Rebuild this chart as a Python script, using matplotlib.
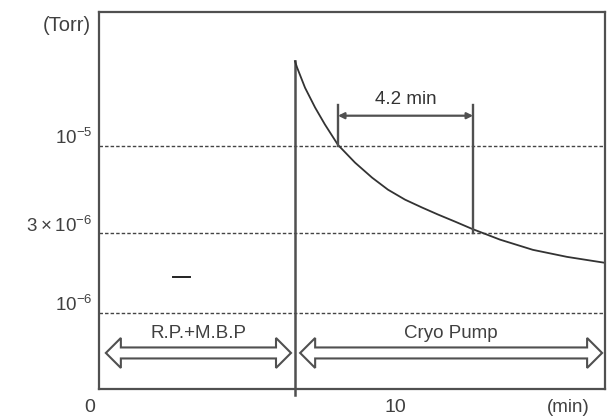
import matplotlib.pyplot as plt
from matplotlib import transforms
from matplotlib.patches import Polygon

# pressure decay after switching to the cryo pump
t_min = [6.72, 6.79, 7.05, 7.38, 7.70, 8.13, 8.69, 9.25, 9.77, 10.33, 10.89, 11.41, 11.97,
         12.52, 13.44, 14.52, 15.64, 16.885]
p_torr = [3.2e-5, 2.93e-5, 2.22e-5, 1.69e-5, 1.34e-5, 1.01e-5, 7.91e-6, 6.43e-6, 5.45e-6,
          4.75e-6, 4.26e-6, 3.87e-6, 3.51e-6, 3.18e-6, 2.74e-6, 2.38e-6, 2.16e-6, 1.99e-6]

ref_levels = [1e-5, 3e-6, 1e-6]
ref_labels = ['$10^{-5}$', '$3\\times10^{-6}$', '$10^{-6}$']
x_ticks = [0, 10]
x_tick_labels = ['0', '10']

switch_t = 6.72
t_reach_1e5 = 8.13
t_reach_3e6 = 12.56
dim_label = '4.2 min'
phase_names = ['R.P.+M.B.P', 'Cryo Pump']
phase_start = [0.52, 6.89]
phase_end = [6.59, 16.79]

col = '#505050'
txt = '#404040'
plt.rcParams['font.family'] = ['Liberation Sans', 'DejaVu Sans']
plt.rcParams['mathtext.fontset'] = 'custom'
plt.rcParams['mathtext.rm'] = 'Liberation Sans'

fig = plt.figure(figsize=(6.08, 4.16), dpi=100)
ax = fig.add_axes([99 / 608, 27 / 416, 506 / 608, 377 / 416])
ax.set_yscale('log')
ax.set_xlim(0.295, 16.885)
ax.set_ylim(3.5e-7, 6.3e-5)
for s in ax.spines.values():
    s.set_color(col)
    s.set_linewidth(1.6)
ax.set_xticks([])
ax.set_yticks([])
ax.minorticks_off()

for lv in ref_levels:
    ax.axhline(lv, color='#444444', lw=1, ls=(0, (2.5, 1.5)))

# labels sit just above the dashed lines
ylab_tr = transforms.offset_copy(ax.get_yaxis_transform(), fig=fig, x=-5, y=1, units='points')
for lv, lab in zip(ref_levels, ref_labels):
    ax.text(0, lv, lab, transform=ylab_tr, ha='right', va='baseline', fontsize=13.5, color=txt)
ax.text(-0.063, 0.965, '(Torr)', transform=ax.transAxes, ha='center', va='center',
        fontsize=14.5, color=txt)

xlab_tr = transforms.offset_copy(ax.get_xaxis_transform(), fig=fig, x=0, y=-13, units='points')
for xt, lab in zip(x_ticks, x_tick_labels):
    ax.text(xt, 0, lab, transform=xlab_tr, ha='center', va='center', fontsize=14, color=txt)
ax.text(15.67, 0, '(min)', transform=xlab_tr, ha='center', va='center', fontsize=13.5, color=txt)

# switch-over line and decay curve
ax.plot([switch_t, switch_t], [3.2e-5, 3.23e-7], color=col, lw=1.8, clip_on=False)
ax.plot(t_min, p_torr, color='#333333', lw=1.3)

# 4.2 min dimension
ax.plot([t_reach_1e5, t_reach_1e5], [1e-5, 1.76e-5], color=col, lw=1.7)
ax.plot([t_reach_3e6, t_reach_3e6], [3e-6, 1.76e-5], color=col, lw=1.7)
ax.annotate('', xy=(t_reach_1e5, 1.51e-5), xytext=(t_reach_3e6, 1.51e-5),
            arrowprops=dict(arrowstyle='<|-|>', color=col, lw=1.6, shrinkA=0, shrinkB=0,
                            mutation_scale=9))
ax.text((t_reach_1e5 + t_reach_3e6) / 2, 1.88e-5, dim_label,
        ha='center', va='center', fontsize=13.5, color='#333333')


def hollow_double_arrow(x0, x1, y, hl=15, hw=15, tw=5.5):
    # outline built in pixels from the data endpoints
    (px0, py), (px1, _) = ax.transData.transform([(x0, y), (x1, y)])
    pts = [(px0, py), (px0 + hl, py + hw), (px0 + hl, py + tw), (px1 - hl, py + tw),
           (px1 - hl, py + hw), (px1, py), (px1 - hl, py - hw), (px1 - hl, py - tw),
           (px0 + hl, py - tw), (px0 + hl, py - hw)]
    fig.patches.append(Polygon(pts, closed=True, fc='white', ec=col, lw=1.5,
                               transform=None, figure=fig, zorder=5))


# pumping phases
y_arrow = 5.75e-7
for name, x0, x1 in zip(phase_names, phase_start, phase_end):
    hollow_double_arrow(x0, x1, y_arrow)
    ax.text((x0 + x1) / 2, 7.5e-7, name, ha='center', va='center', fontsize=13.5, color=txt)

ax.plot([2.72, 3.28], [1.64e-6, 1.64e-6], color='#222222', lw=1.4)

fig.savefig('out.png', dpi=100)
